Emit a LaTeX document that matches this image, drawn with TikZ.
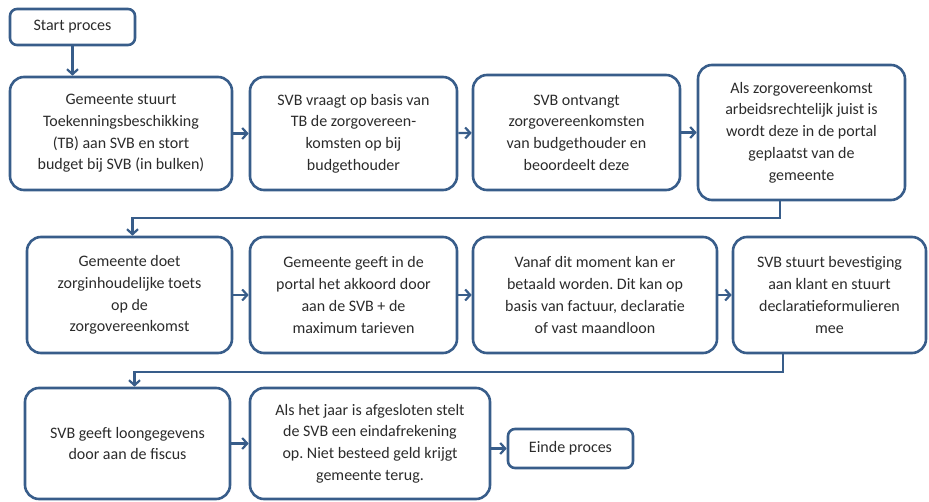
\documentclass[tikz,border=0pt]{standalone}
\usepackage{fontspec}
\setmainfont{Carlito}
\frenchspacing
\usetikzlibrary{arrows.meta}
\definecolor{lijnblauw}{HTML}{385D8A}
\definecolor{tekstgrijs}{HTML}{2B2B2B}

\begin{document}
\begin{tikzpicture}[
    x=1pt, y=-1pt,
    stap/.style={draw=lijnblauw, line width=2.6pt, rounded corners=14pt, align=center,
                 text=tekstgrijs, inner sep=3pt, minimum width=207pt, minimum height=113pt},
    klein/.style={stap, rounded corners=7pt, minimum height=36pt},
    pijl/.style={draw=lijnblauw, line width=2.2pt, -{Straight Barb[length=5pt,width=11pt]}},
    font=\fontsize{16}{21.7}\selectfont
]
\useasboundingbox (0,0) rectangle (929,502);

% Begin
\node[klein, minimum width=125pt] (start) at (72.5,27) {Start proces};

% Rij 1
\node[stap, minimum width=222pt] (b1) at (121,133.5) {Gemeente stuurt\\Toekenningsbeschikking\\(TB) aan SVB en stort\\budget bij SVB (in bulken)};
\node[stap] (b2) at (353.5,133.5) {SVB vraagt op basis van\\TB de zorgovereen-\\komsten op bij\\budgethouder};
\node[stap, minimum height=115pt] (b3) at (576.5,132.5) {SVB ontvangt\\zorgovereenkomsten\\van budgethouder en\\beoordeelt deze};
\node[stap, minimum height=135pt] (b4) at (801.5,132.5) {Als zorgovereenkomst\\arbeidsrechtelijk juist is\\wordt deze in de portal\\geplaatst van de\\gemeente};

% Rij 2
\node[stap, minimum width=205pt, minimum height=116pt] (b5) at (129.5,295) {Gemeente doet\\zorginhoudelijke toets\\op de\\zorgovereenkomst};
\node[stap, minimum height=116pt] (b6) at (353.5,295) {Gemeente geeft in de\\portal het akkoord door\\aan de SVB + de\\maximum tarieven};
\node[stap, minimum width=244pt, minimum height=116pt] (b7) at (595,295) {Vanaf dit moment kan er\\betaald worden. Dit kan op\\basis van factuur, declaratie\\of vast maandloon};
\node[stap, minimum width=193pt, minimum height=116pt] (b8) at (829.5,295) {SVB stuurt bevestiging\\aan klant en stuurt\\declaratieformulieren\\mee};

% Rij 3
\node[stap, minimum width=205pt, minimum height=111pt] (b9) at (127.5,443.5) {SVB geeft loongegevens\\door aan de fiscus};
\node[stap, minimum width=240pt, minimum height=111pt] (b10) at (370,443.5) {Als het jaar is afgesloten stelt\\de SVB een eindafrekening\\op. Niet besteed geld krijgt\\gemeente terug.};
\node[klein, minimum width=125pt, minimum height=39pt] (einde) at (570.5,448.5) {Einde proces};

% Pijlen
\draw[pijl] (start.south) -- (start.south |- b1.north);
\draw[pijl] (b1) -- (b2);
\draw[pijl] (b2) -- (b3);
\draw[pijl] (b3) -- (b4);

\coordinate (knik1) at (780,218);
\draw[pijl] (b4.south -| knik1) -- (knik1) -| ([xshift=3pt]b5.north);

\draw[pijl] (b5) -- (b6);
\draw[pijl] (b6) -- (b7);
\draw[pijl] (b7) -- (b8);

\coordinate (knik2) at (783,372);
\draw[pijl] (b8.south -| knik2) -- (knik2) -| ([xshift=7pt]b9.north);

\draw[pijl] (b9) -- (b10);
\draw[pijl] (b10.east |- einde.west) -- (einde.west);

\end{tikzpicture}
\end{document}
